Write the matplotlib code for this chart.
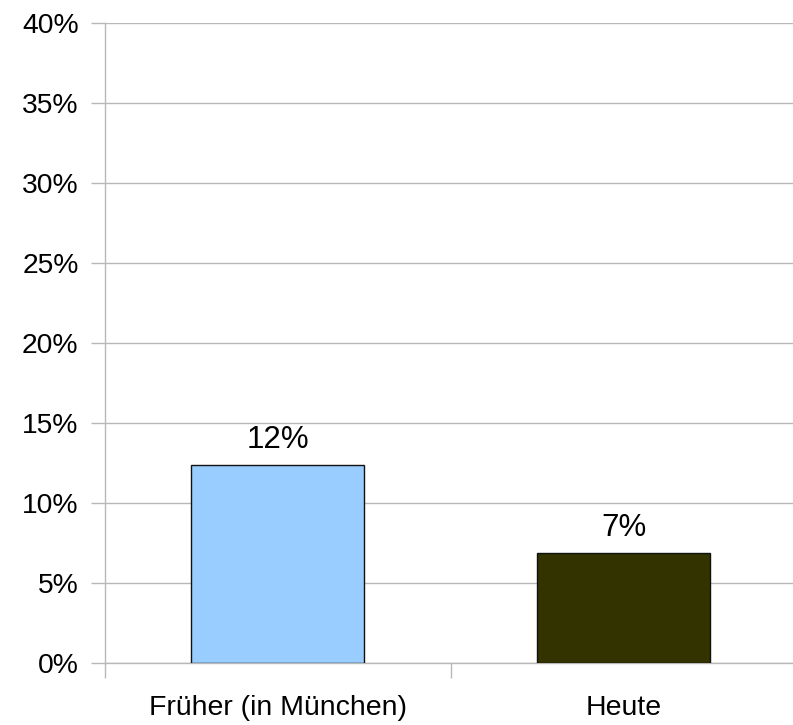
import matplotlib.pyplot as plt
from matplotlib.ticker import MultipleLocator, FuncFormatter

plt.rcParams['font.family'] = ['Liberation Sans', 'DejaVu Sans']

categories = ['Früher (in München)', 'Heute']
values = [12.4, 6.9]
colors = ['#99ccff', '#333300']

fig = plt.figure(figsize=(7.93, 7.25), dpi=100)
ax = fig.add_axes([105 / 793, 61.7 / 725, 692 / 793, 640 / 725])

x = range(len(categories))
bars = ax.bar(x, values, width=0.5, color=colors, edgecolor='#111111', linewidth=1, zorder=3)

for b, v in zip(bars, values):
    ax.annotate(f'{v:.0f}%', (b.get_x() + b.get_width() / 2, b.get_height()),
                xytext=(0, 12), textcoords='offset points',
                ha='center', va='baseline', fontsize=22.5, color='black')

ax.set_xlim(-0.5, len(categories) - 0.5)
ax.set_ylim(0, 40)
ax.yaxis.set_major_locator(MultipleLocator(5))
ax.yaxis.set_major_formatter(FuncFormatter(lambda v, p: f'{v:.0f}%'))
ax.grid(axis='y', color='#b8b8b8', linewidth=1, zorder=0)
ax.set_axisbelow(True)

ax.set_xticks(list(x))
ax.set_xticklabels(categories)
ax.set_xticks([i - 0.5 for i in range(len(categories) + 1)], minor=True)
ax.tick_params(axis='x', which='major', length=0, pad=23, labelsize=20.5)
ax.tick_params(axis='x', which='minor', length=11, color='#b8b8b8', width=1)
ax.tick_params(axis='y', length=10, color='#b8b8b8', width=1, pad=9, labelsize=20.3)

for s in ['top', 'right']:
    ax.spines[s].set_visible(False)
for s in ['left', 'bottom']:
    ax.spines[s].set_color('#b8b8b8')
    ax.spines[s].set_linewidth(1)

fig.savefig('out.png', dpi=100)
